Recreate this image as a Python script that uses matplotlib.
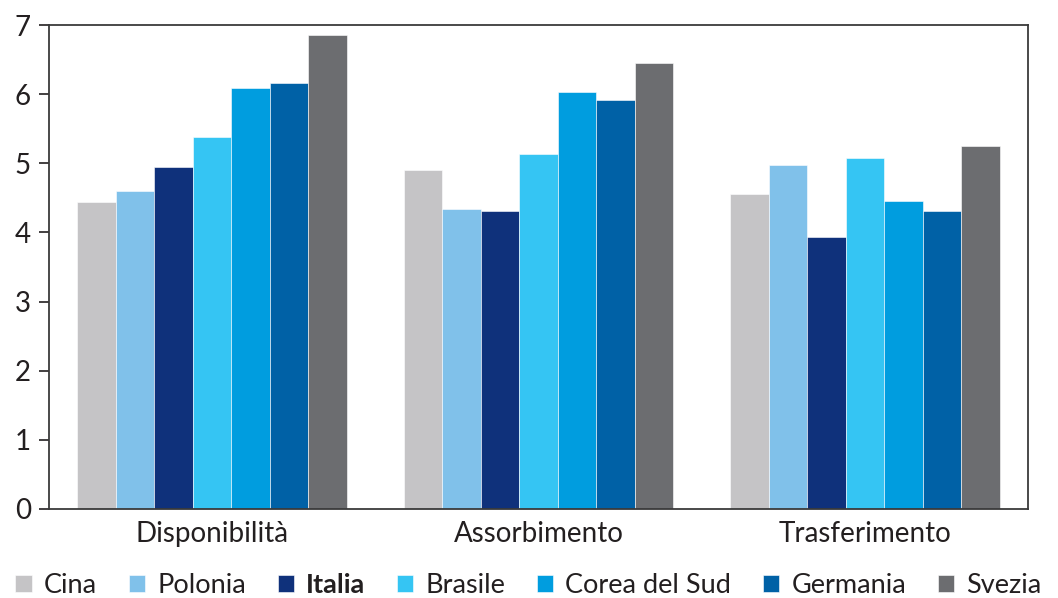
import matplotlib.pyplot as plt
import numpy as np

plt.rcParams['font.family'] = ['Lato', 'DejaVu Sans']

# data
categories = ["Disponibilità", "Assorbimento", "Trasferimento"]
countries = ["Cina", "Polonia", "Italia", "Brasile", "Corea del Sud", "Germania", "Svezia"]
cina = [4.44, 4.90, 4.56]
polonia = [4.60, 4.34, 4.98]
italia = [4.95, 4.31, 3.93]
brasile = [5.38, 5.14, 5.08]
corea = [6.09, 6.03, 4.46]
germania = [6.16, 5.92, 4.31]
svezia = [6.86, 6.45, 5.25]
series = [cina, polonia, italia, brasile, corea, germania, svezia]
colors = ["#C5C4C6", "#80C1EA", "#0F317B", "#35C5F3", "#009DDF", "#0061A6", "#6C6D70"]

fig = plt.figure(figsize=(10.58, 5.98), dpi=100)
ax = fig.add_axes([0.0463, 0.149, 0.9253, 0.809])

x = np.arange(len(categories))
width = 0.118
for i, (vals, name, col) in enumerate(zip(series, countries, colors)):
    offset = (i - 3) * width
    ax.bar(x + offset, vals, width, color=col, label=name,
           edgecolor="white", linewidth=0.4)

ax.set_xlim(-0.5, 2.5)
ax.set_ylim(0, 7)
ax.set_yticks(range(0, 8))
ax.set_xticks(x)
ax.set_xticklabels(categories)
ax.tick_params(axis="x", length=0, labelsize=20, pad=9, colors="#231f20")
ax.tick_params(axis="y", length=7, width=1.2, labelsize=20, pad=6,
               colors="#231f20", direction="out")
for s in ax.spines.values():
    s.set_color("#3a3a3a")
    s.set_linewidth(1.3)

leg = fig.legend(loc="lower left", bbox_to_anchor=(0.012, -0.005), ncol=7,
                 frameon=False, fontsize=19.5, handlelength=0.6, handleheight=0.6,
                 handletextpad=0.45, columnspacing=1.17, borderaxespad=0,
                 borderpad=0.1)
for t in leg.get_texts():
    t.set_color("#231f20")
    if t.get_text() == "Italia":
        t.set_fontweight("bold")

fig.savefig("out.png", dpi=100)
